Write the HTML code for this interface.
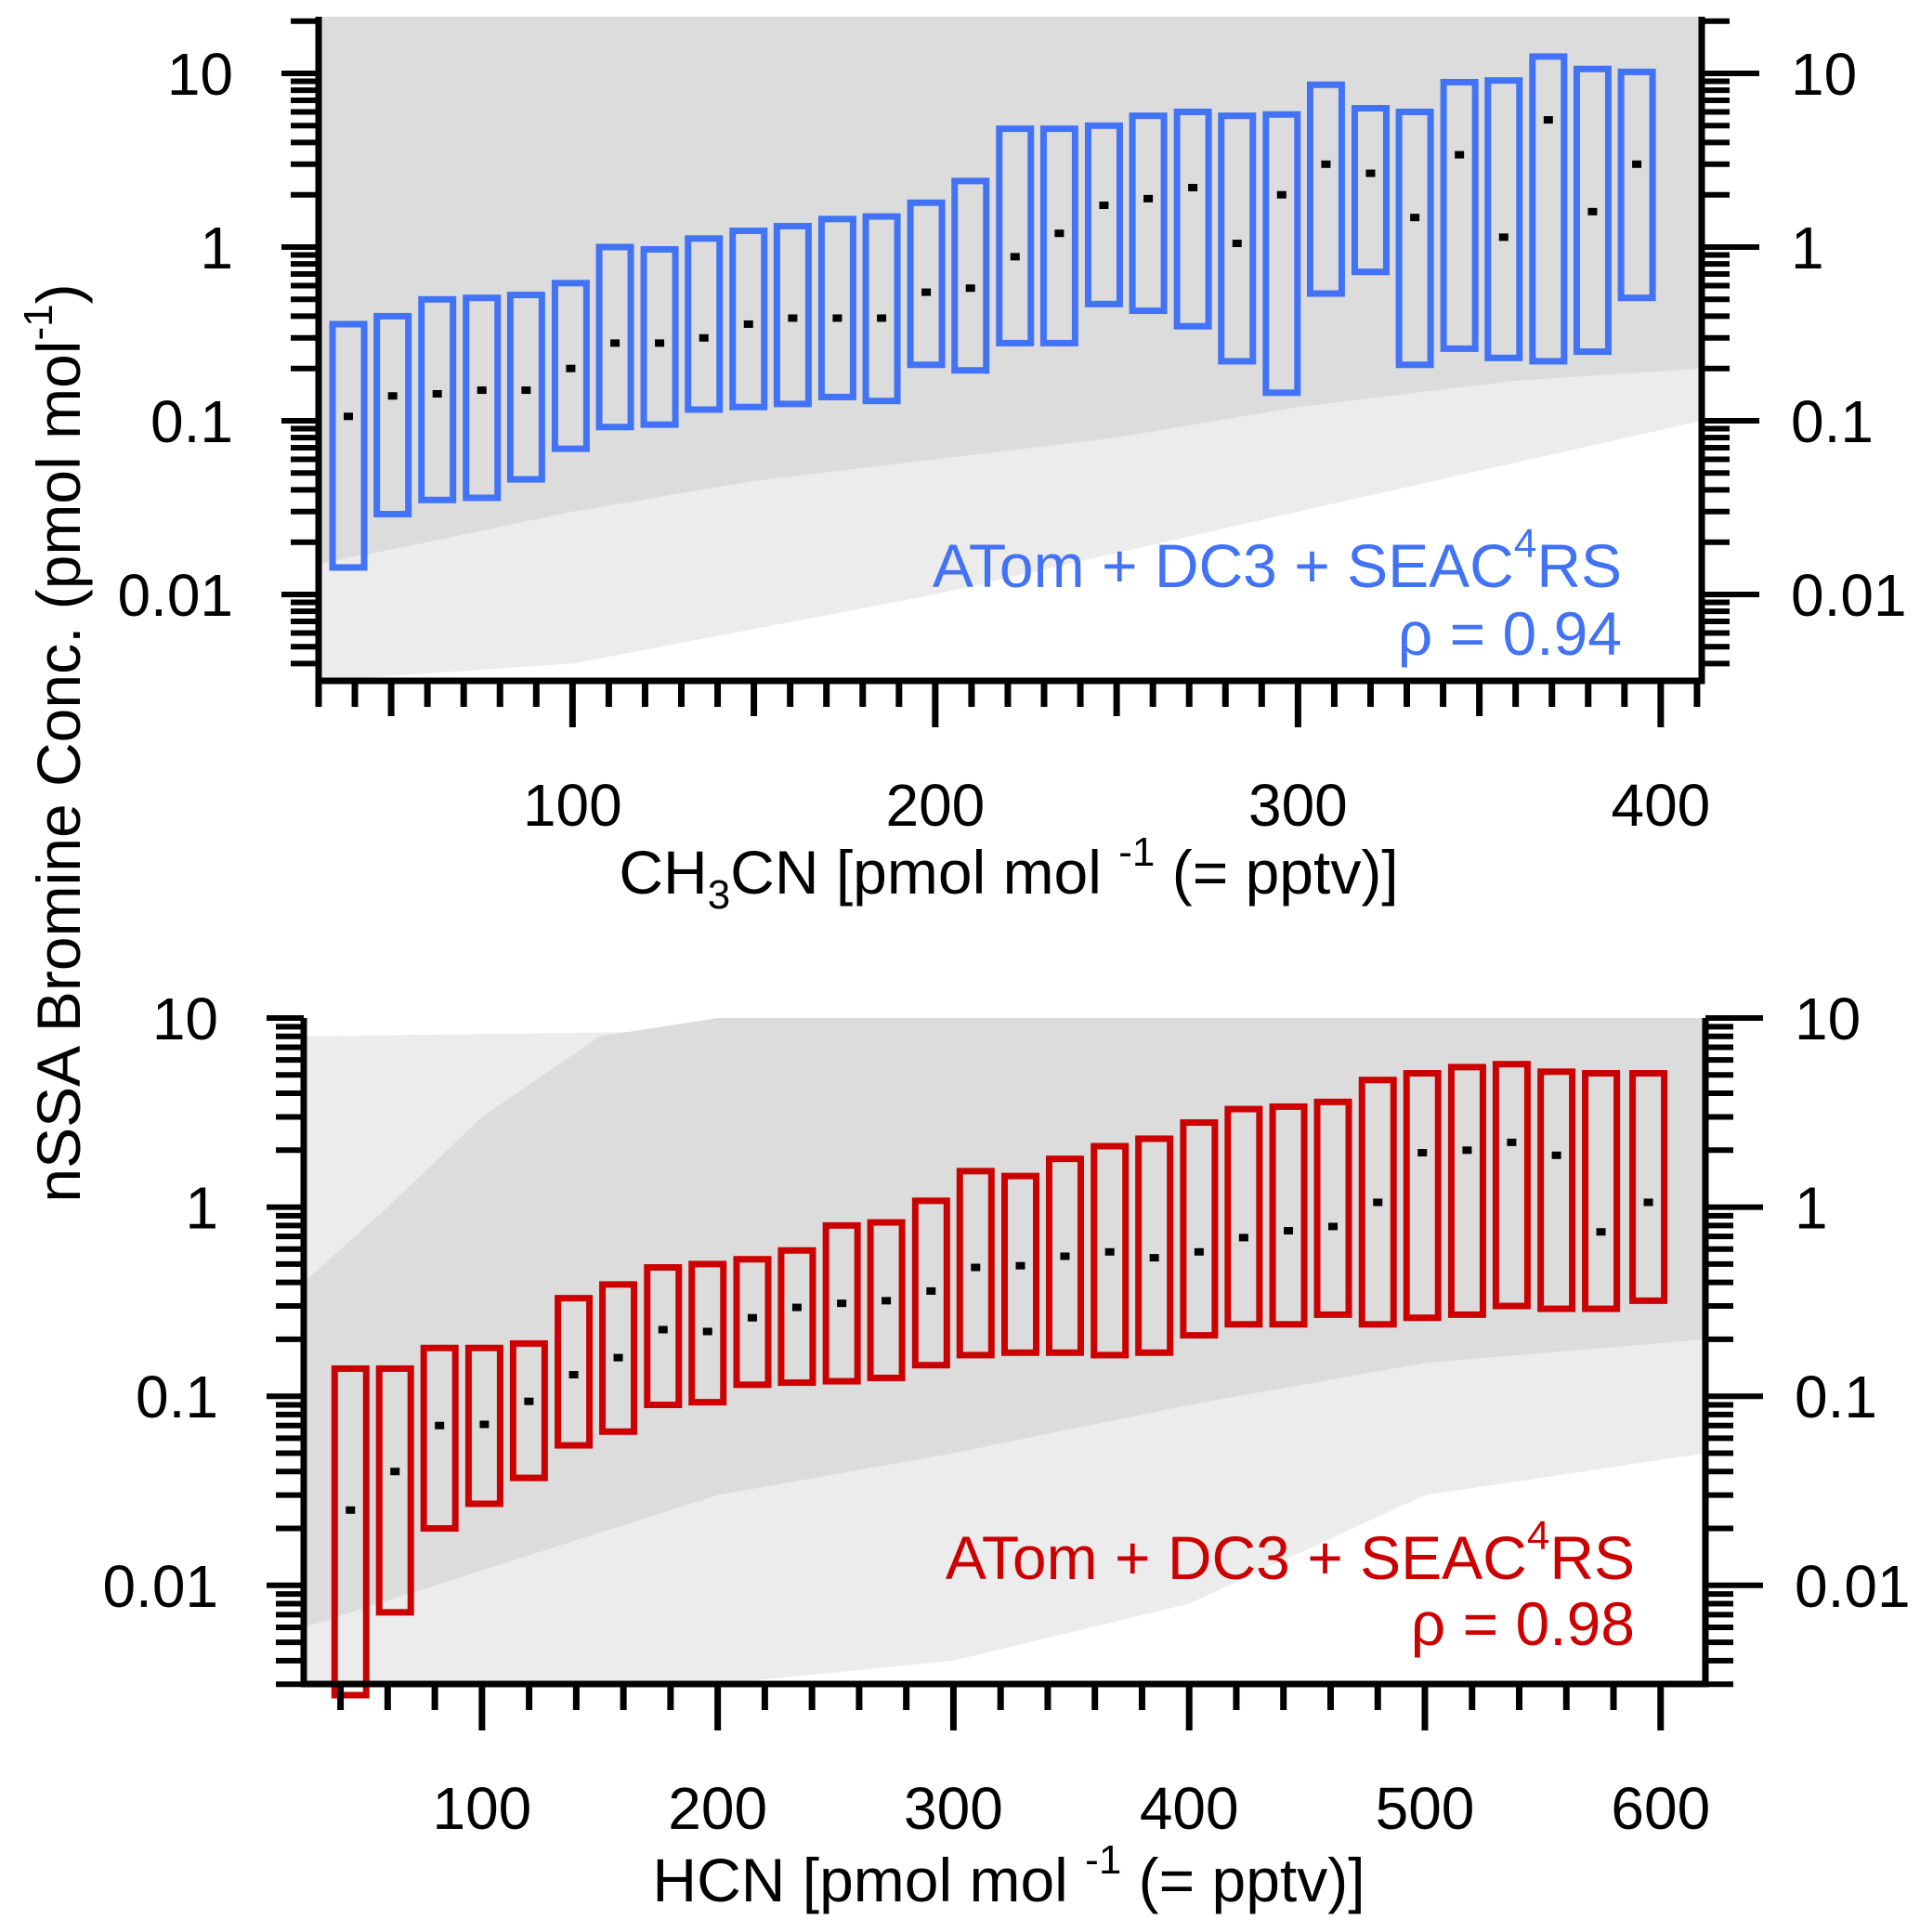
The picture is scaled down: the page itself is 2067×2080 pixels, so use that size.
<!DOCTYPE html>
<html><head><meta charset="utf-8"><style>
html,body{margin:0;padding:0;background:#fff;}
svg{display:block;font-family:"Liberation Sans",Arial,sans-serif;}
</style></head><body>
<svg id="chart" width="2067" height="2080" viewBox="0 0 2067 2080" xmlns="http://www.w3.org/2000/svg">
<g id="top-plot"></g>
<g id="bot-plot"></g>
<text transform="translate(86,800) rotate(-90)" text-anchor="middle" font-size="66">nSSA Bromine Conc. (pmol mol<tspan dy="-30" font-size="44">-1</tspan><tspan dy="30">)</tspan></text>
<text x="1086" y="962" text-anchor="middle" font-size="66">CH<tspan dy="16" font-size="44">3</tspan><tspan dy="-16">CN [pmol mol </tspan><tspan dy="-30" font-size="44">-1</tspan><tspan dy="30"> (= pptv)]</tspan></text>
<text x="1086" y="2047" text-anchor="middle" font-size="66">HCN [pmol mol <tspan dy="-30" font-size="44">-1</tspan><tspan dy="30"> (= pptv)]</tspan></text>
<text x="1746" y="632" text-anchor="end" font-size="66" fill="#4272f5">ATom + DC3 + SEAC<tspan dy="-32" font-size="44">4</tspan><tspan dy="32">RS</tspan></text>
<text x="1746" y="705" text-anchor="end" font-size="66" fill="#4272f5">ρ = 0.94</text>
<text x="1760" y="1700" text-anchor="end" font-size="66" fill="#cc0000">ATom + DC3 + SEAC<tspan dy="-32" font-size="44">4</tspan><tspan dy="32">RS</tspan></text>
<text x="1760" y="1771" text-anchor="end" font-size="66" fill="#cc0000">ρ = 0.98</text>
</svg>
<script>
// ---- top panel data (CH3CN) ----
const topX   = [38.2,50.4,62.7,75.0,87.2,99.5,111.7,124.0,136.2,148.5,160.7,173.0,185.2,197.5,209.7,222.0,234.2,246.5,258.7,271.0,283.2,295.5,307.7,320.0,332.2,344.5,356.7,369.0,381.2,393.4];
const topHi  = [0.36,0.40,0.50,0.51,0.53,0.62,1.0,0.97,1.12,1.24,1.32,1.45,1.5,1.8,2.4,4.8,4.8,5.0,5.7,6.0,5.7,5.8,8.6,6.3,6.0,8.9,9.1,12.5,10.6,10.2];
const topLo  = [0.0143,0.029,0.035,0.036,0.046,0.069,0.092,0.095,0.116,0.12,0.125,0.137,0.13,0.21,0.195,0.28,0.28,0.47,0.43,0.35,0.22,0.145,0.54,0.72,0.21,0.26,0.23,0.22,0.25,0.51];
const topMed = [0.106,0.139,0.143,0.15,0.15,0.2,0.28,0.28,0.30,0.36,0.39,0.39,0.39,0.55,0.58,0.88,1.2,1.74,1.9,2.2,1.05,2.0,3.0,2.66,1.48,3.4,1.14,5.4,1.6,3.0];
const topXTicks = ['100','200','300','400'];
// ---- bottom panel data (HCN) ----
const botX   = [44.2,63.1,82.0,101.0,119.9,138.9,157.8,176.8,195.7,214.7,233.6,252.6,271.5,290.5,309.4,328.4,347.3,366.3,385.2,404.2,423.1,442.1,461.0,480.0,498.9,517.9,536.8,555.8,574.7,594.8];
const botHi  = [0.14,0.14,0.18,0.18,0.19,0.33,0.39,0.48,0.5,0.53,0.59,0.8,0.83,1.08,1.55,1.46,1.8,2.1,2.3,2.8,3.3,3.4,3.6,4.7,5.1,5.5,5.7,5.2,5.1,5.1];
const botLo  = [0.001,0.0072,0.02,0.027,0.037,0.055,0.065,0.09,0.093,0.115,0.118,0.12,0.125,0.146,0.165,0.17,0.17,0.165,0.17,0.21,0.24,0.24,0.27,0.24,0.26,0.27,0.3,0.29,0.29,0.32];
const botMed = [0.025,0.04,0.07,0.071,0.094,0.13,0.16,0.225,0.22,0.26,0.295,0.31,0.32,0.36,0.48,0.49,0.55,0.58,0.54,0.58,0.69,0.75,0.79,1.06,1.94,2.0,2.2,1.88,0.74,1.06];
const botXTicks = ['100','200','300','400','500','600'];
const yTickLabels = ['10','1','0.1','0.01'];

const NS='http://www.w3.org/2000/svg';
function mk(parent,tag,attrs){const e=document.createElementNS(NS,tag);for(const k in attrs)e.setAttribute(k,attrs[k]);parent.appendChild(e);return e;}

function panel(g,cfg){
  const {L,R,T,B,xmin,xmax,y10,dec,color,xs,hi,lo,med,xTicks,xMinor,xMid,bgDense,bgSparse}=cfg;
  const X=v=>L+(v-xmin)/(xmax-xmin)*(R-L);
  const Y=v=>y10+(1-Math.log10(v))*dec;
  const clipY=y=>Math.max(T,Math.min(B+12,y));
  const clipB=y=>Math.max(T,Math.min(B,y));
  const sp=mk(g,'polygon',{points:bgSparse.map(p=>X(p[0])+','+clipB(Y(p[1]))).join(' '),fill:'#ececec'});
  
  
  const dn=mk(g,'polygon',{points:bgDense.map(p=>X(p[0])+','+clipB(Y(p[1]))).join(' '),fill:'#dcdcdc'});
  
  
  for(let i=0;i<xs.length;i++){
    const cx=X(xs[i]),yt=clipY(Y(hi[i])),yb=clipY(Y(lo[i]));
    const r=mk(g,'rect',{x:cx-17,y:yt,width:34,height:yb-yt,fill:'none',stroke:color,'stroke-width':7});
    
    
    const m=mk(g,'rect',{x:cx-5,y:Y(med[i])-4,width:10,height:8,fill:'#000'});
    
    
  }
  const ax=mk(g,'path',{d:`M${L},${T} V${B} H${R} V${T}`,fill:'none',stroke:'#000','stroke-width':7});
  
  
  for(let v=Math.ceil(xmin/xMinor)*xMinor; v<=xmax; v+=xMinor){
    const major=Math.abs(v%100)<1e-6, mid=xMid&&Math.abs(v%50)<1e-6;
    const len=major?50:(mid?38:28);
    const t=mk(g,'line',{x1:X(v),x2:X(v),y1:B,y2:B+len,stroke:'#000','stroke-width':7});
    
    
  }
  xTicks.forEach(s=>{
    const t=mk(g,'text',{x:X(+s),y:B+156,'text-anchor':'middle','font-size':64});
    t.textContent=s;
    
    
  });
  for(let e=-3;e<=1;e++){
    for(let k=1;k<=9;k++){
      const v=k*Math.pow(10,e); const y=Y(v);
      if(y<T-1||y>B+1)continue;
      const maj=k===1;
      const l=mk(g,'line',{x1:L-(maj?40:30),x2:L,y1:y,y2:y,stroke:'#000','stroke-width':6});
      
      
      const r=mk(g,'line',{x1:R,x2:R+(maj?62:30),y1:y,y2:y,stroke:'#000','stroke-width':6});
      
      
    }
  }
  yTickLabels.forEach(s=>{
    const y=Y(+s)+23;
    const a=mk(g,'text',{x:L-92,y:y,'text-anchor':'end','font-size':64}); a.textContent=s;
    
    
    const b=mk(g,'text',{x:R+96,y:y,'text-anchor':'start','font-size':64}); b.textContent=s;
    
    
  });
}
panel(document.getElementById('top-plot'),{L:343,R:1832,T:18,B:733,xmin:30,xmax:411.3,y10:79,dec:187,color:'#4272f5',
  xs:topX,hi:topHi,lo:topLo,med:topMed,xTicks:topXTicks,xMinor:10,xMid:true,
  bgDense:[[30,25],[411.3,25],[411.3,0.2],[360,0.17],[300,0.12],[250,0.08],[200,0.06],[150,0.045],[100,0.03],[60,0.02],[30,0.015]],
  bgSparse:[[30,25],[411.3,25],[411.3,0.1],[300,0.03],[200,0.01],[100,0.004],[30,0.003]]});
panel(document.getElementById('bot-plot'),{L:327,R:1836,T:1096,B:1813,xmin:24.4,xmax:619,y10:1096,dec:203.6,color:'#cc0000',
  xs:botX,hi:botHi,lo:botLo,med:botMed,xTicks:botXTicks,xMinor:20,xMid:false,
  bgDense:[[24.4,0.4],[60,1],[100,3],[150,8],[200,10],[619,10],[619,0.2],[500,0.15],[400,0.09],[300,0.05],[200,0.03],[100,0.012],[24.4,0.006]],
  bgSparse:[[24.4,8],[619,10],[619,0.05],[500,0.03],[400,0.008],[300,0.004],[200,0.003],[24.4,0.003]]});
</script>
</body></html>
